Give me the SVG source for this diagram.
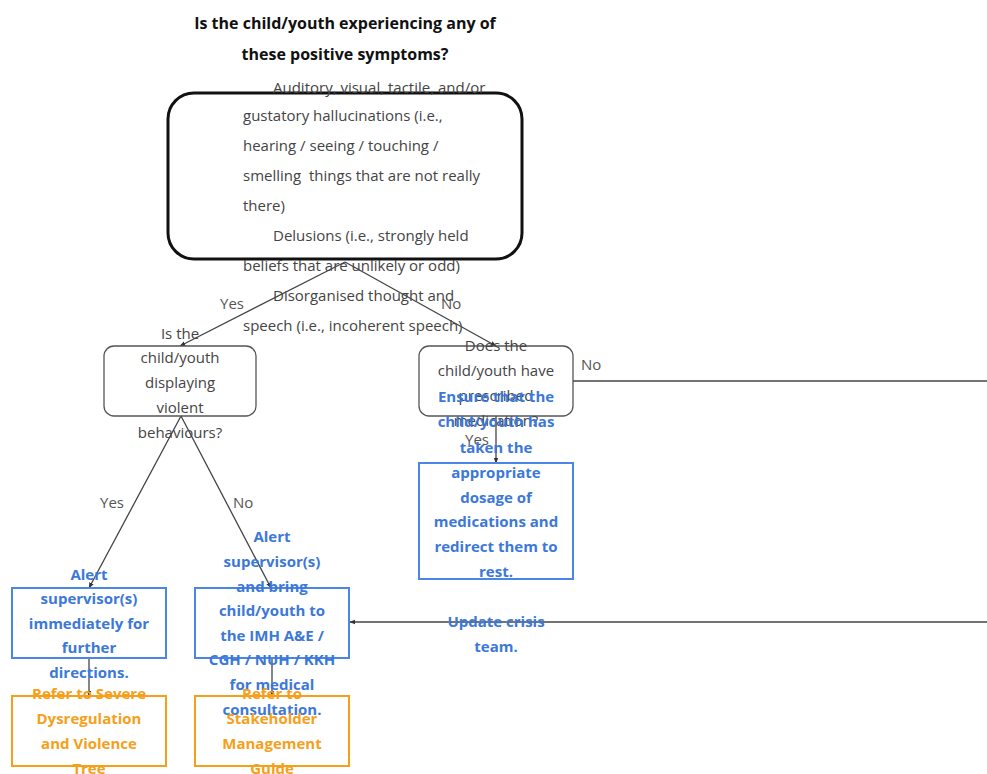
<svg xmlns="http://www.w3.org/2000/svg" width="987" height="774" viewBox="0 0 987 774">
<defs>
<marker id="arr" viewBox="0 0 10 10" refX="9" refY="5" markerWidth="6" markerHeight="6" orient="auto-start-reverse" markerUnits="userSpaceOnUse">
<path d="M0,1 L10,5 L0,9 z" fill="#333"/>
</marker>
<style>
text{font-family:"Open Sans","Liberation Sans",sans-serif;}
.t{font-size:15px;fill:#444;}
.c{text-anchor:middle;}
.title{font-size:16px;font-weight:bold;fill:#111;text-anchor:middle;}
.b{font-size:15px;font-weight:bold;fill:#3c78d8;text-anchor:middle;}
.o{font-size:15px;font-weight:bold;fill:#f6a01a;text-anchor:middle;}
.lbl{font-size:15px;fill:#555;}
.q{fill:#fff;stroke:#555;stroke-width:1.3;}
.bb{fill:none;stroke:#4a86e8;stroke-width:2;}
.ob{fill:none;stroke:#f6a01a;stroke-width:2;}
.ln{fill:none;stroke:#444;stroke-width:1.3;}
</style>
</defs>
<rect width="987" height="774" fill="#fff"/>

<g id="start">
<text class="title" x="345" y="29">Is the child/youth experiencing any of</text>
<text class="title" x="345" y="60">these positive symptoms?</text>
<rect x="168" y="93" width="354" height="166" rx="26" fill="none" stroke="#111" stroke-width="3"/>
<text class="t" x="273" y="93">Auditory, visual, tactile, and/or</text>
<text class="t" x="243" y="121">gustatory hallucinations (i.e.,</text>
<text class="t" x="243" y="151">hearing / seeing / touching /</text>
<text class="t" x="243" y="181" xml:space="preserve">smelling  things that are not really</text>
<text class="t" x="243" y="211">there)</text>
<text class="t" x="273" y="241">Delusions (i.e., strongly held</text>
<text class="t" x="243" y="271">beliefs that are unlikely or odd)</text>
<text class="t" x="273" y="301">Disorganised thought and</text>
<text class="t" x="243" y="331">speech (i.e., incoherent speech)</text>
</g>

<g id="connectors">
<line class="ln" x1="345" y1="262" x2="180" y2="346" marker-end="url(#arr)"/>
<line class="ln" x1="345" y1="262" x2="496" y2="346" marker-end="url(#arr)"/>
<line class="ln" x1="573" y1="381" x2="987" y2="381"/>
<line class="ln" x1="496" y1="416" x2="496" y2="463" marker-end="url(#arr)"/>
<line class="ln" x1="181" y1="416" x2="89" y2="588" marker-end="url(#arr)"/>
<line class="ln" x1="181" y1="416" x2="271" y2="588" marker-end="url(#arr)"/>
<line class="ln" x1="89" y1="658" x2="89" y2="696" marker-end="url(#arr)"/>
<line class="ln" x1="272" y1="658" x2="272" y2="696" marker-end="url(#arr)"/>
<line class="ln" x1="987" y1="622" x2="350" y2="622" marker-end="url(#arr)"/>
<text class="lbl" x="220" y="309">Yes</text>
<text class="lbl" x="441" y="309">No</text>
<text class="lbl" x="581" y="370">No</text>
<text class="lbl" x="465" y="445">Yes</text>
<text class="lbl" x="100" y="508">Yes</text>
<text class="lbl" x="233" y="508">No</text>
</g>

<g id="violent">
<rect class="q" x="104" y="346" width="152" height="70" rx="10"/>
<text class="t c" x="180" y="339">Is the</text>
<text class="t c" x="180" y="363">child/youth</text>
<text class="t c" x="180" y="388">displaying</text>
<text class="t c" x="180" y="413">violent</text>
<text class="t c" x="180" y="438">behaviours?</text>
</g>

<g id="medication">
<rect class="q" x="419" y="346" width="154" height="70" rx="10"/>
<text class="t c" x="496" y="351">Does the</text>
<text class="t c" x="496" y="376">child/youth have</text>
<text class="t c" x="496" y="401">prescribed</text>
<text class="t c" x="496" y="426">medication?</text>
</g>

<g id="ensure">
<rect class="bb" x="419" y="463" width="154" height="116"/>
<text class="b" x="496" y="402">Ensure that the</text>
<text class="b" x="496" y="427">child/youth has</text>
<text class="b" x="496" y="453">taken the</text>
<text class="b" x="496" y="478">appropriate</text>
<text class="b" x="496" y="503">dosage of</text>
<text class="b" x="496" y="527">medications and</text>
<text class="b" x="496" y="552">redirect them to</text>
<text class="b" x="496" y="577">rest.</text>
</g>

<g id="update">
<text class="b" x="496" y="627">Update crisis</text>
<text class="b" x="496" y="652">team.</text>
</g>

<g id="alert-immediate">
<rect class="bb" x="12" y="588" width="154" height="70"/>
<text class="b" x="89" y="580">Alert</text>
<text class="b" x="89" y="604">supervisor(s)</text>
<text class="b" x="89" y="629">immediately for</text>
<text class="b" x="89" y="653">further</text>
<text class="b" x="89" y="678">directions.</text>
</g>

<g id="alert-bring">
<rect class="bb" x="195" y="588" width="154" height="70"/>
<text class="b" x="272" y="542">Alert</text>
<text class="b" x="272" y="567">supervisor(s)</text>
<text class="b" x="272" y="592">and bring</text>
<text class="b" x="272" y="616">child/youth to</text>
<text class="b" x="272" y="641">the IMH A&amp;E /</text>
<text class="b" x="272" y="665">CGH / NUH / KKH</text>
<text class="b" x="272" y="690">for medical</text>
<text class="b" x="272" y="715">consultation.</text>
</g>

<g id="severe">
<rect class="ob" x="12" y="696" width="154" height="70"/>
<text class="o" x="89" y="699">Refer to Severe</text>
<text class="o" x="89" y="724">Dysregulation</text>
<text class="o" x="89" y="749">and Violence</text>
<text class="o" x="89" y="774">Tree</text>
</g>

<g id="stakeholder">
<rect class="ob" x="195" y="696" width="154" height="70"/>
<text class="o" x="272" y="699">Refer to</text>
<text class="o" x="272" y="724">Stakeholder</text>
<text class="o" x="272" y="749">Management</text>
<text class="o" x="272" y="774">Guide</text>
</g>
</svg>
